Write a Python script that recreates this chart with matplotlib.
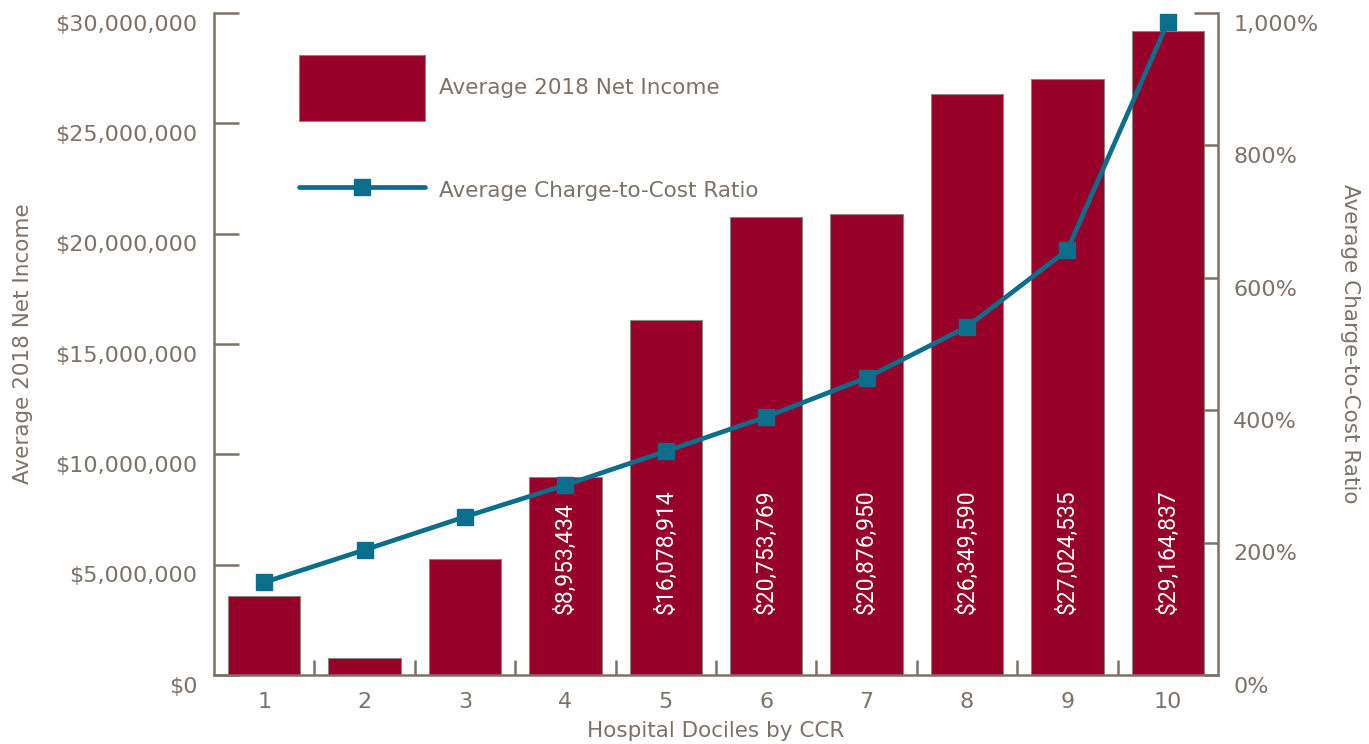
import numpy as np
import matplotlib.pyplot as plt
from matplotlib.ticker import FuncFormatter
from matplotlib.legend_handler import HandlerLine2D
from matplotlib.transforms import ScaledTranslation

deciles = [1, 2, 3, 4, 5, 6, 7, 8, 9, 10]
net_income = [3590000, 770000, 5270000, 8953434, 16078914, 20753769,
              20876950, 26349590, 27024535, 29164837]
labelled = [False, False, False, True, True, True, True, True, True, True]
ccr_pct = [140, 189, 239, 287, 338, 390, 449, 526, 642, 986]

bar_color = "#970029"
line_color = "#0b6e8b"
axis_color = "#7d7268"
text_color = "#7d7268"

plt.rcParams['font.family'] = ['DejaVu Sans']


class LowLine(HandlerLine2D):
    # put the legend line level with the middle of its text
    def create_artists(self, legend, orig_handle, xdescent, ydescent,
                       width, height, fontsize, trans):
        return super().create_artists(legend, orig_handle, xdescent, ydescent,
                                      width, height - 14.4, fontsize, trans)


fig = plt.figure(figsize=(13.69, 7.44), dpi=100)
ax = fig.add_axes([0.1563, 0.0927, 0.7334, 0.8898])
ax2 = ax.twinx()

bars = ax.bar(deciles, net_income, width=0.72, color=bar_color,
              edgecolor="#8f857c", linewidth=0.8, label="Average 2018 Net Income", zorder=2)
for x, v, show in zip(deciles, net_income, labelled):
    if show:
        ax.text(x, 2750000, f"${v:,.0f}", rotation=90, ha="center", va="bottom",
                color="white", fontsize=16.5, family=['Roboto', 'DejaVu Sans'], zorder=3)

line, = ax2.plot(deciles, ccr_pct, color=line_color, lw=3.4, marker="s", ms=12,
                 solid_capstyle="round", label="Average Charge-to-Cost Ratio", zorder=4)

ax.set_xlim(0.5, 10.5)
ax.set_ylim(0, 30000000)
ax2.set_ylim(0, 1000)

ax.set_yticks(np.arange(0, 30000001, 5000000))
ax.yaxis.set_major_formatter(FuncFormatter(lambda v, p: f"${v:,.0f}"))
ax2.set_yticks(np.arange(0, 1001, 200))
ax2.yaxis.set_major_formatter(FuncFormatter(lambda v, p: f"{v:,.0f}%"))

ax.set_xticks(deciles)
ax.set_xticks(np.arange(1.5, 10, 1), minor=True)
ax.tick_params(axis="x", which="major", length=0, pad=12, labelsize=16, labelcolor=text_color)
ax.tick_params(axis="x", which="minor", direction="in", length=11, width=1.8, color=axis_color)
ax.tick_params(axis="y", direction="in", length=18, width=1.8, color=axis_color,
               pad=12, labelsize=16, labelcolor=text_color)
ax2.tick_params(axis="y", direction="in", length=10, width=1.8, color=axis_color,
                pad=11, labelsize=16, labelcolor=text_color)
ax2.yaxis.get_major_ticks()[-1].tick2line.set_markersize(17)

# tick labels sit a little below their ticks in the original
shift = ScaledTranslation(0, -7 / 72, fig.dpi_scale_trans)
for lab in ax.get_yticklabels() + ax2.get_yticklabels():
    lab.set_transform(lab.get_transform() + shift)

for a in (ax, ax2):
    a.spines["top"].set_visible(False)
    for s in ("left", "right", "bottom"):
        a.spines[s].set_color(axis_color)
        a.spines[s].set_linewidth(1.8)
ax.spines["right"].set_visible(False)
ax2.spines["left"].set_visible(False)
ax2.spines["bottom"].set_visible(False)

ax.set_ylabel("Average 2018 Net Income", fontsize=15.5, color=text_color, labelpad=16)
ax2.set_ylabel("Average Charge-to-Cost Ratio", fontsize=15.5, color=text_color,
               rotation=-90, labelpad=30)
ax.set_xlabel("Hospital Dociles by CCR", fontsize=15.5, color=text_color, labelpad=7)

ax2.legend([bars, line], ["Average 2018 Net Income", "Average Charge-to-Cost Ratio"],
           handler_map={line: LowLine()},
           loc="upper left", bbox_to_anchor=(0.0847, 0.9366), frameon=False,
           borderpad=0, borderaxespad=0, handlelength=5.85, handleheight=4.35,
           labelspacing=1.72, handletextpad=0.65, numpoints=1, fontsize=15.5,
           labelcolor=text_color)

fig.savefig("out.png", dpi=100)
